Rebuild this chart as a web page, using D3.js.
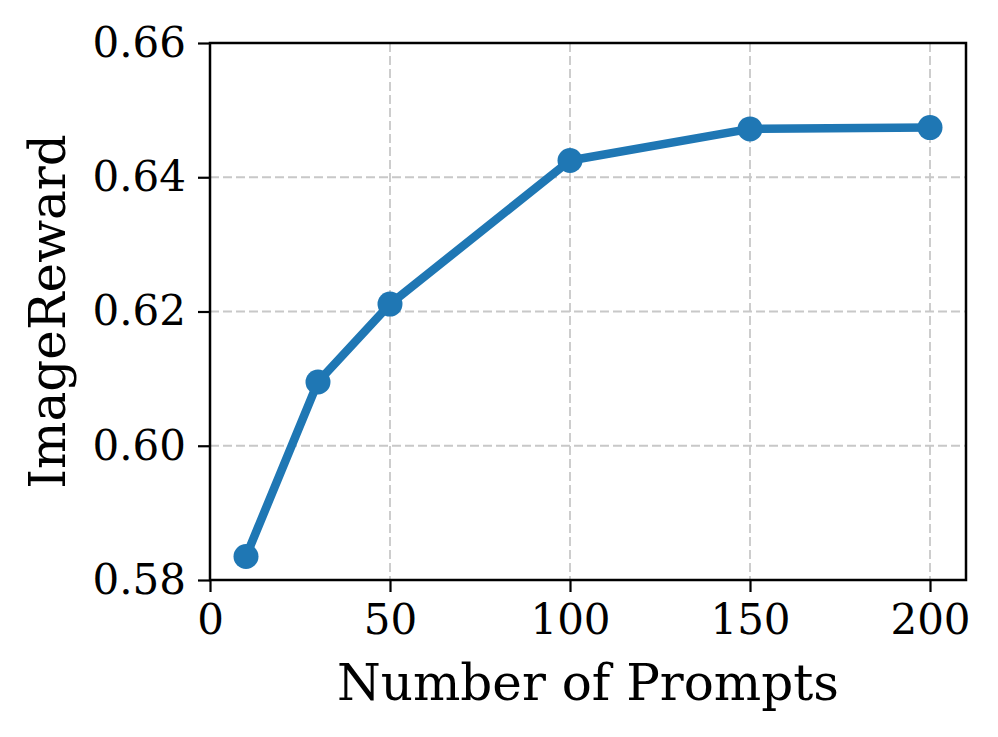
<!DOCTYPE html>
<meta charset="utf-8">
<script src="https://d3js.org/d3.v7.min.js"></script>
<style>
  body { margin: 0; background: #fff; }
  text { font-family: "DejaVu Serif", serif; fill: #000; }
</style>
<div id="my_dataviz"></div>
<script>
// data
var prompts = [10, 30, 50, 100, 150, 200];
var imageReward = [0.5835, 0.6095, 0.6211, 0.6425, 0.6472, 0.6474];
var xTicks = [0, 50, 100, 150, 200];
var yTicks = [0.58, 0.60, 0.62, 0.64, 0.66];

var margin = {top: 43, right: 32, bottom: 157, left: 210},
    width = 998 - margin.left - margin.right,
    height = 737 - margin.top - margin.bottom;

var svg = d3.select("#my_dataviz")
  .append("svg")
    .attr("width", 998)
    .attr("height", 737)
  .append("g")
    .attr("transform", "translate(" + margin.left + "," + margin.top + ")");

var x = d3.scaleLinear().domain([0, 210]).range([0, width]);
var y = d3.scaleLinear().domain([0.58, 0.66]).range([height, 0]);

// grid
svg.append("g").selectAll("line").data(xTicks).enter().append("line")
  .attr("x1", function(d){ return x(d) }).attr("x2", function(d){ return x(d) })
  .attr("y1", 0).attr("y2", height)
  .attr("stroke", "#c8c8c8").attr("stroke-width", 1.8).attr("stroke-dasharray", "9,4");
svg.append("g").selectAll("line").data(yTicks).enter().append("line")
  .attr("y1", function(d){ return y(d) }).attr("y2", function(d){ return y(d) })
  .attr("x1", 0).attr("x2", width)
  .attr("stroke", "#c8c8c8").attr("stroke-width", 1.8).attr("stroke-dasharray", "9,4");

// axes
var xAxis = svg.append("g")
  .attr("transform", "translate(0," + height + ")")
  .call(d3.axisBottom(x).tickValues(xTicks).tickSize(12).tickPadding(12).tickSizeOuter(0));
var yAxis = svg.append("g")
  .call(d3.axisLeft(y).tickValues(yTicks).tickFormat(d3.format(".2f")).tickSize(12).tickPadding(12).tickSizeOuter(0));
[xAxis, yAxis].forEach(function(a){
  a.select(".domain").remove();
  a.selectAll(".tick line").attr("stroke", "#000").attr("stroke-width", 2.2);
  a.selectAll(".tick text").style("font-size", "42px").style("font-family", "DejaVu Serif");
});

// frame
svg.append("rect")
  .attr("x", 0).attr("y", 0).attr("width", width).attr("height", height)
  .attr("fill", "none").attr("stroke", "#000").attr("stroke-width", 2.5);

// line + points
var line = d3.line()
  .x(function(d, i){ return x(prompts[i]) })
  .y(function(d){ return y(d) });
svg.append("path")
  .datum(imageReward)
  .attr("d", line)
  .attr("fill", "none")
  .attr("stroke", "#1f77b4")
  .attr("stroke-width", 8.5)
  .attr("stroke-linejoin", "round");
svg.selectAll("myPoints").data(imageReward).enter().append("circle")
  .attr("cx", function(d, i){ return x(prompts[i]) })
  .attr("cy", function(d){ return y(d) })
  .attr("r", 12.5)
  .attr("fill", "#1f77b4");

// labels
svg.append("text")
  .attr("text-anchor", "middle")
  .attr("x", width / 2)
  .attr("y", height + 120)
  .style("font-size", "50px")
  .text("Number of Prompts");
svg.append("text")
  .attr("text-anchor", "middle")
  .attr("transform", "rotate(-90)")
  .attr("x", -height / 2)
  .attr("y", -145)
  .style("font-size", "50px")
  .text("ImageReward");
</script>
